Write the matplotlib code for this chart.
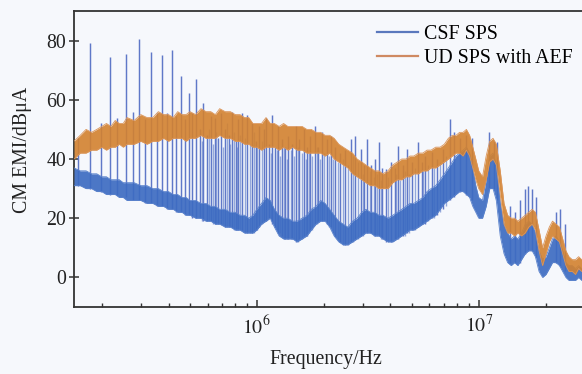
import matplotlib
matplotlib.use("Agg")
import matplotlib.pyplot as plt
from matplotlib.ticker import LogLocator, NullFormatter, FixedLocator
from matplotlib.lines import Line2D

plt.rcParams['font.family'] = ['Liberation Serif', 'DejaVu Serif']
plt.rcParams['mathtext.fontset'] = 'stix'

# ---------------- data ----------------
freq_mhz = [0.15, 0.16, 0.17, 0.18, 0.19, 0.20, 0.21, 0.22, 0.23, 0.24, 0.25, 0.26, 0.28, 0.30,
            0.32, 0.34, 0.36, 0.38, 0.40, 0.42, 0.44, 0.46, 0.48, 0.50, 0.53, 0.56, 0.59, 0.62,
            0.65, 0.68, 0.72, 0.76, 0.80, 0.84, 0.88, 0.92, 0.96, 1.00, 1.05, 1.10, 1.15, 1.20,
            1.26, 1.32, 1.38, 1.45, 1.52, 1.60, 1.68, 1.76, 1.85, 1.94, 2.03, 2.13, 2.23, 2.34,
            2.45, 2.57, 2.70, 2.83, 2.97, 3.10, 3.25, 3.40, 3.55, 3.70, 3.90, 4.10, 4.30, 4.50,
            4.70, 4.90, 5.10, 5.35, 5.60, 5.85, 6.10, 6.40, 6.70, 7.00, 7.30, 7.60, 7.90, 8.20,
            8.50, 8.80, 9.10, 9.40, 9.70, 10.0, 10.4, 10.8, 11.2, 11.6, 12.0, 12.5, 13.0, 13.5,
            14.0, 14.5, 15.0, 15.6, 16.2, 16.8, 17.4, 18.0, 18.7, 19.4, 20.1, 20.8, 21.5, 22.3,
            23.1, 23.9, 24.7, 25.5, 26.4, 27.3, 28.2, 29.1, 30.0]

# UD SPS with AEF: lower / upper edge of the noise band (dBuA)
ud_low = [40, 42, 42, 43, 43, 44, 43, 44, 44, 45, 44, 45,
          45, 46, 45, 46, 46, 47, 46, 47, 47, 47, 46, 47,
          47, 48, 47, 47, 47, 48, 47, 47, 46, 46, 45, 45, 44,
          44, 43, 44, 44, 44, 43, 44, 43, 44, 43, 43, 42, 42, 42, 42, 41, 42,
          40, 39, 38, 37, 35, 34, 33, 32, 31, 31, 30, 30, 30,
          32, 33, 33, 34, 34, 35, 35, 36, 36, 37, 37, 38, 39, 40, 41, 42, 42, 41, 43, 41,
          37, 33, 30, 28, 33, 39, 40, 38, 28,
          18, 15, 15, 14, 15, 14, 15, 17, 18, 16, 9, 4, 8, 12, 14, 13, 12, 8, 4, 2, 2, 1, 3, 2, 2]
ud_high = [46, 48, 50, 49, 50, 51, 52, 51, 53, 52, 52, 54,
           53, 55, 54, 54, 56, 55, 55, 54, 56, 55, 55, 56,
           55, 57, 56, 56, 55, 57, 56, 56, 55, 55, 54, 54, 52,
           52, 52, 54, 52, 52, 51, 52, 51, 51, 51, 51, 50, 50, 49, 49, 48, 48,
           47, 45, 44, 43, 42, 40, 39, 38, 37, 36, 36, 35, 36,
           38, 39, 40, 40, 41, 41, 42, 42, 43, 43, 44, 44, 45, 47, 48, 48, 49, 49, 50, 48,
           44, 40, 36, 34, 41, 46, 47, 45, 36,
           25, 21, 20, 20, 19, 20, 21, 22, 23, 22, 16, 10, 14, 17, 19, 18, 17, 13, 9, 7, 6, 6, 7, 6, 6]

# CSF SPS: lower / upper edge of the dense noise floor (dBuA)
csf_low = [31, 31, 30, 30, 29, 29, 28, 28, 28, 27, 27, 26,
           26, 26, 25, 25, 24, 24, 23, 23, 22, 22, 21, 21,
           20, 20, 19, 19, 18, 18, 17, 17, 16, 16, 15, 15, 15,
           16, 18, 19, 20, 17, 14, 13, 13, 13, 12, 13, 14, 16, 18, 19, 19, 17,
           14, 12, 11, 11, 12, 13, 14, 15, 15, 14, 14, 13, 12,
           12, 13, 14, 15, 16, 16, 17, 18, 19, 20, 21, 23, 25, 26, 27, 28, 29, 29, 28, 27,
           24, 22, 20, 20, 24, 30, 30, 26, 14,
           8, 5, 4, 5, 4, 6, 8, 9, 9, 7, 2, 0, 1, 3, 5, 5, 4, 2, 0, -1, -1, -1, 0, -1, -1]
csf_high = [37, 36, 36, 35, 35, 34, 34, 33, 33, 33, 32, 32,
            32, 31, 31, 30, 30, 29, 29, 28, 28, 27, 27, 26,
            26, 25, 25, 24, 24, 23, 23, 22, 22, 21, 21, 20, 21,
            23, 25, 27, 26, 23, 21, 20, 20, 19, 19, 20, 21, 23, 24, 26, 25, 23,
            21, 19, 18, 17, 19, 20, 22, 23, 22, 22, 21, 21, 20,
            21, 22, 23, 24, 25, 25, 26, 27, 29, 30, 31, 33, 35, 37, 39, 41, 42, 43, 44, 42,
            37, 31, 27, 26, 33, 41, 42, 38, 25,
            18, 15, 13, 14, 13, 15, 18, 19, 18, 15, 9, 6, 7, 10, 13, 14, 12, 9, 5, 4, 4, 3, 4, 3, 3]

# CSF SPS: strong harmonic spikes (frequency in MHz, tip and foot in dBuA)
spike_mhz = [0.157, 0.1765, 0.1978, 0.2174, 0.2354, 0.2567, 0.2761, 0.2947, 0.3129, 0.3346,
             0.3543, 0.3744, 0.3945, 0.4144, 0.4331, 0.4549, 0.4743, 0.4943, 0.5117, 0.5346,
             0.5543, 0.5737, 0.5963, 0.6195, 0.6477, 0.6683, 0.6899, 0.7191, 0.7458, 0.7757,
             0.8020, 0.8257, 0.8608, 0.9069, 0.9552, 0.9876, 1.024, 1.079, 1.105, 1.137,
             1.176, 1.210, 1.248, 1.292, 1.342, 1.385, 1.444, 1.501, 1.553, 1.636,
             1.688, 1.736, 1.829, 1.892, 1.958, 2.063, 2.151, 2.259, 2.379, 2.506,
             2.648, 2.761, 2.939, 3.039, 3.151, 3.285, 3.424, 3.558, 3.684, 3.813,
             4.016, 4.173, 4.337, 4.535, 4.728, 4.980, 5.340, 5.527, 5.720, 6.133,
             6.460, 6.926, 7.420, 7.768, 8.209, 8.737, 9.299, 11.13, 11.69, 12.15,
             13.81, 14.54, 15.32, 16.14, 16.65, 17.36, 18.10, 22.28, 23.23, 24.47]
spike_tip = [47, 79.3, 52, 74.3, 54, 75.4, 56, 80.7, 53.4, 76,
             55.7, 75, 55.7, 76.8, 54.5, 68, 53.4, 62.4, 55.7, 67,
             50, 59, 48, 54.5, 54, 47, 55.7, 50, 48, 56,
             46, 53.4, 55.7, 55, 52, 46, 51, 50, 54, 45,
             55, 44, 51, 46.7, 44, 47.8, 45, 51, 46.7, 50,
             44, 47.8, 51, 44, 49, 46.7, 47.8, 44, 42, 43,
             46.7, 47.8, 43.3, 38, 46.7, 38, 40, 45.6, 37, 36.6,
             39, 37, 44.4, 38, 43.3, 39, 45.6, 39, 41, 42.2,
             40, 43.3, 53.4, 49, 47, 48, 47, 49, 46, 45.6,
             24, 22, 26, 30, 31, 30, 27, 22, 23, 18]
spike_foot = [31, 30, 29, 28, 28, 27, 26, 26, 25, 25,
              24, 24, 23, 23, 22, 22, 21, 21, 20, 20,
              20, 19, 19, 19, 18, 18, 18, 17, 17, 17,
              16, 16, 16, 15, 15, 16, 17, 19, 19, 20,
              18, 17, 15, 14, 13, 13, 13, 12, 13, 14,
              14, 16, 18, 19, 19, 18, 17, 14, 12, 11,
              12, 13, 14, 15, 15, 15, 14, 14, 13, 12,
              12, 13, 13, 14, 15, 16, 17, 18, 18, 20,
              21, 23, 26, 27, 29, 28, 26, 30, 30, 26,
              5, 5, 5, 8, 9, 9, 7, 5, 4, 2]

# CSF SPS: weaker interleaved spikes in the dense middle band
weak_mhz = [0.564, 0.608, 0.633, 0.658, 0.704, 0.732, 0.760, 0.789, 0.814, 0.843,
            0.884, 0.930, 0.970, 1.005, 1.050, 1.160, 1.230, 1.270, 1.320, 1.365,
            1.420, 1.470, 1.530, 1.600, 1.660, 1.710, 1.780, 1.860, 1.920, 2.010,
            2.110, 2.200, 2.320, 2.440, 2.580, 2.700, 2.850, 3.000, 3.220, 3.360,
            3.490, 3.620, 3.920, 4.250, 4.440, 4.630, 4.850, 5.150, 5.620, 5.920,
            6.300, 6.700, 7.150]
weak_tip = [46, 50, 45, 49, 44, 52, 45, 49, 44, 48,
            47, 45, 49, 44, 46, 42, 43, 41, 44, 40,
            43, 41, 44, 42, 40, 42, 41, 44, 40, 42,
            41, 40, 39, 40, 38, 41, 39, 35, 36, 34,
            35, 33, 34, 35, 33, 36, 35, 37, 36, 38,
            37, 39, 41]
weak_foot = [19, 19, 18, 18, 18, 17, 17, 16, 16, 16,
             15, 15, 15, 16, 18, 19, 16, 15, 13, 13,
             13, 13, 12, 13, 14, 15, 16, 18, 19, 19,
             17, 15, 13, 11, 11, 12, 13, 14, 15, 14,
             14, 13, 12, 13, 14, 14, 15, 16, 18, 19,
             20, 22, 24]

series_labels = ["CSF SPS", "UD SPS with AEF"]
y_ticks = [0, 20, 40, 60, 80]
x_label = "Frequency/Hz"
y_label = "CM EMI/dB\u03bcA"

# ---------------- drawing ----------------
BG = "#f6f8fc"
BLUE = "#3d6cc2"
BLUE_SPIKE = "#5f78c8"
ORANGE = "#d3822f"
FS = 14.3

hz = [f * 1e6 for f in freq_mhz]

fig = plt.figure(figsize=(5.82, 3.74), dpi=100, facecolor=BG)
ax = fig.add_axes([74 / 582, 67 / 374, 510.6 / 582, 296 / 374], facecolor=BG)
ax.set_xscale("log")

ax.vlines([f * 1e6 for f in weak_mhz], weak_foot, weak_tip, color="#8a9fd8", lw=1.0,
          alpha=0.9, zorder=2)
ax.vlines([f * 1e6 for f in spike_mhz], spike_foot, spike_tip, color=BLUE_SPIKE, lw=1.05,
          zorder=2)
ax.fill_between(hz, csf_low, csf_high, color=BLUE, lw=0, alpha=0.92, zorder=3)
ax.plot(hz, csf_high, color="#5a82cc", lw=0.6, zorder=3)
ax.plot(hz, csf_low, color="#5a82cc", lw=0.6, zorder=3)

ax.fill_between(hz, ud_low, ud_high, color=ORANGE, lw=0, alpha=0.9, zorder=4)
ax.plot(hz, ud_high, color="#db955a", lw=0.6, zorder=4)
ax.plot(hz, ud_low, color="#db955a", lw=0.6, zorder=4)

ax.set_xlim(0.15e6, 30e6)
ax.set_ylim(-10, 90)

ax.xaxis.set_major_locator(FixedLocator([1e6, 1e7]))
ax.xaxis.set_minor_locator(LogLocator(base=10, subs=(2, 3, 4, 5, 6, 7, 8, 9), numticks=20))
ax.xaxis.set_minor_formatter(NullFormatter())
ax.set_xticklabels([r"$10^6$", r"$10^7$"])
ax.set_yticks(y_ticks)

ax.tick_params(axis="x", which="major", direction="in", length=5, width=1.1,
               labelsize=FS, pad=6, colors="#333333", labelcolor="#222222")
ax.tick_params(axis="x", which="minor", direction="in", length=3, width=1.0, colors="#333333")
ax.tick_params(axis="y", direction="inout", length=7, width=1.1, labelsize=FS, pad=2,
               colors="#333333", labelcolor="#222222")

for side in ("left", "bottom", "top"):
    ax.spines[side].set_linewidth(1.3)
    ax.spines[side].set_color("#333333")
ax.spines["right"].set_visible(False)

ax.set_xlabel(x_label, fontsize=FS, color="#222222")
ax.set_ylabel(y_label, fontsize=FS, color="#222222")
ax.xaxis.set_label_coords(0.4935, -0.145)
ax.yaxis.set_label_coords(-0.082, 0.53)

handles = [Line2D([], [], color="#5a78bd", lw=1.6), Line2D([], [], color="#cf8a62", lw=1.6)]
fig.legend(handles, series_labels, loc="upper left", bbox_to_anchor=(377 / 582, 1 - 25 / 374),
           frameon=False, fontsize=FS, handlelength=2.06, handletextpad=0.3,
           borderpad=0, borderaxespad=0, labelspacing=0.26)

fig.savefig("out.png", dpi=100, facecolor=BG)
